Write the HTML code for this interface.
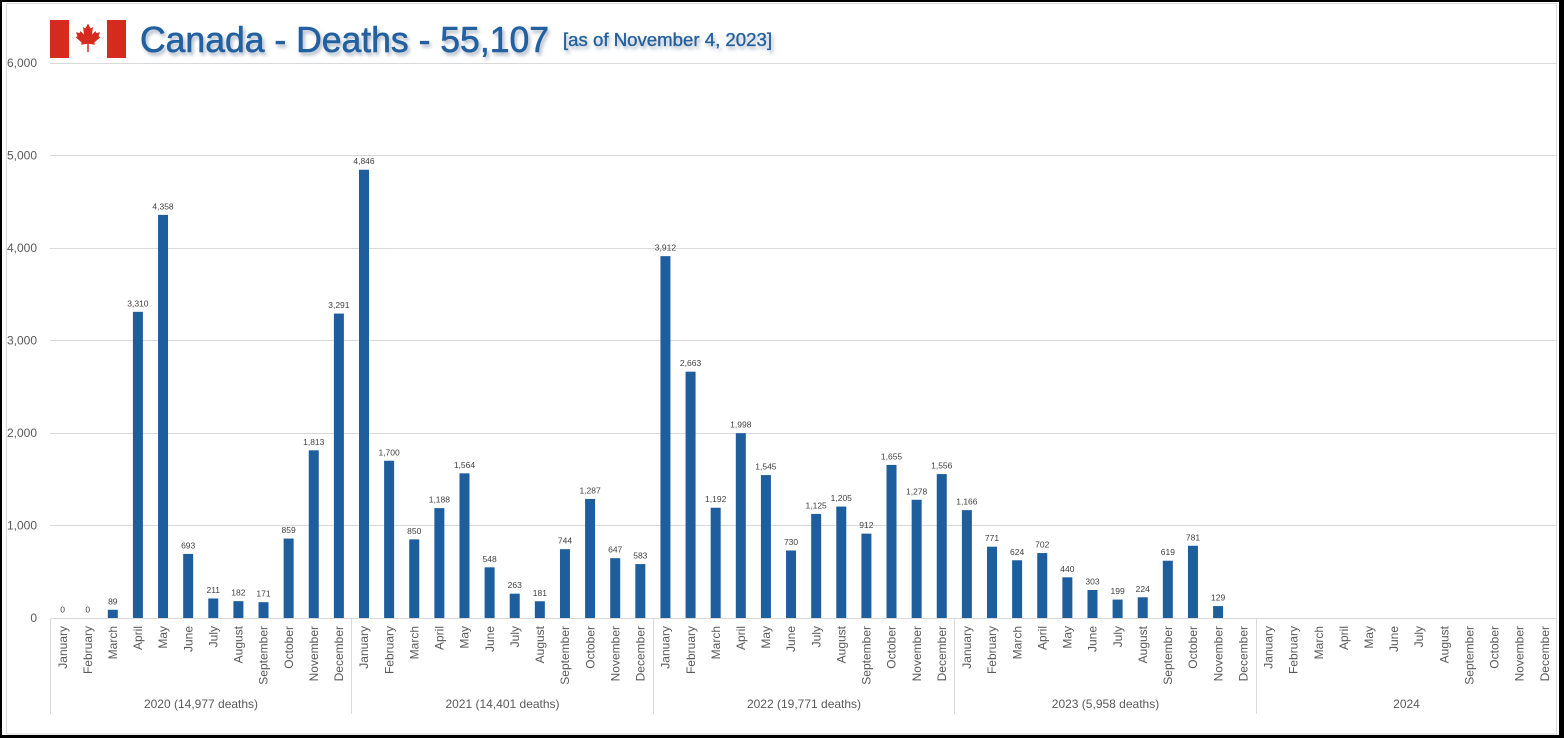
<!DOCTYPE html>
<html>
<head>
<meta charset="utf-8">
<style>
html,body{margin:0;padding:0;background:#000;}
body{width:1564px;height:738px;overflow:hidden;}
svg{display:block;}
text{font-family:"Liberation Sans",Arial,sans-serif;}
</style>
</head>
<body>
<svg width="1564" height="738" viewBox="0 0 1564 738" xmlns="http://www.w3.org/2000/svg">
<defs>
<filter id="sh" x="-10%" y="-30%" width="130%" height="180%">
<feDropShadow dx="2" dy="3" stdDeviation="1.8" flood-color="#6d7f99" flood-opacity="0.55"/>
</filter>
</defs>
<rect x="0" y="0" width="1564" height="738" fill="#000"/>
<rect x="2" y="2" width="1557" height="733" fill="#fff"/>
<rect x="6.5" y="3.5" width="1550" height="730.5" fill="none" stroke="#d9d9d9" stroke-width="1"/>

<!-- gridlines -->
<g stroke="#d9d9d9" stroke-width="1">
<line x1="50" y1="63.5" x2="1557" y2="63.5"/>
<line x1="50" y1="155.5" x2="1557" y2="155.5"/>
<line x1="50" y1="248.5" x2="1557" y2="248.5"/>
<line x1="50" y1="340.5" x2="1557" y2="340.5"/>
<line x1="50" y1="433.5" x2="1557" y2="433.5"/>
<line x1="50" y1="525.5" x2="1557" y2="525.5"/>
<line x1="50" y1="618.5" x2="1557" y2="618.5"/>
<line x1="50.5" y1="618" x2="50.5" y2="714"/>
<line x1="351.5" y1="618" x2="351.5" y2="714"/>
<line x1="653.5" y1="618" x2="653.5" y2="714"/>
<line x1="954.5" y1="618" x2="954.5" y2="714"/>
<line x1="1256.5" y1="618" x2="1256.5" y2="714"/>
</g>

<!-- y axis labels -->
<g font-size="12" fill="#595959" text-anchor="end">
<text x="37" y="67">6,000</text>
<text x="37" y="159.5">5,000</text>
<text x="37" y="252">4,000</text>
<text x="37" y="344.5">3,000</text>
<text x="37" y="437">2,000</text>
<text x="37" y="529.5">1,000</text>
<text x="37" y="622">0</text>
</g>

<!-- title -->
<g>
<rect x="50" y="20" width="19" height="38" fill="#d52b1e"/>
<rect x="69" y="20" width="38" height="38" fill="#fff"/>
<rect x="107" y="20" width="19" height="38" fill="#d52b1e"/>
<polygon fill="#d52b1e" transform="translate(88,38.5) scale(15)" points="0,-1 0.17,-0.67 0.33,-0.77 0.27,-0.27 0.5,-0.5 0.55,-0.37 0.8,-0.42 0.7,-0.15 0.83,-0.08 0.42,0.27 0.47,0.42 0.05,0.35 0.05,0.9 -0.05,0.9 -0.05,0.35 -0.47,0.42 -0.42,0.27 -0.83,-0.08 -0.7,-0.15 -0.8,-0.42 -0.55,-0.37 -0.5,-0.5 -0.27,-0.27 -0.33,-0.77 -0.17,-0.67"/>
</g>
<g filter="url(#sh)" fill="#23609f">
<text x="140" y="52" font-size="36" textLength="409" lengthAdjust="spacingAndGlyphs" stroke="#23609f" stroke-width="0.6">Canada - Deaths - 55,107</text>
<text x="563" y="46" font-size="18" textLength="209" lengthAdjust="spacingAndGlyphs" stroke="#23609f" stroke-width="0.35">[as of November 4, 2023]</text>
</g>

<!-- bars -->
<g fill="#1f5e9c">
<rect x="107.80" y="609.77" width="10" height="8.23"/>
<rect x="132.92" y="311.82" width="10" height="306.18"/>
<rect x="158.04" y="214.88" width="10" height="403.12"/>
<rect x="183.16" y="553.90" width="10" height="64.10"/>
<rect x="208.28" y="598.48" width="10" height="19.52"/>
<rect x="233.40" y="601.16" width="10" height="16.84"/>
<rect x="258.52" y="602.18" width="10" height="15.82"/>
<rect x="283.64" y="538.54" width="10" height="79.46"/>
<rect x="308.76" y="450.30" width="10" height="167.70"/>
<rect x="333.88" y="313.58" width="10" height="304.42"/>
<rect x="359.00" y="169.74" width="10" height="448.26"/>
<rect x="384.12" y="460.75" width="10" height="157.25"/>
<rect x="409.24" y="539.37" width="10" height="78.63"/>
<rect x="434.36" y="508.11" width="10" height="109.89"/>
<rect x="459.48" y="473.33" width="10" height="144.67"/>
<rect x="484.60" y="567.31" width="10" height="50.69"/>
<rect x="509.72" y="593.67" width="10" height="24.33"/>
<rect x="534.84" y="601.26" width="10" height="16.74"/>
<rect x="559.96" y="549.18" width="10" height="68.82"/>
<rect x="585.08" y="498.95" width="10" height="119.05"/>
<rect x="610.20" y="558.15" width="10" height="59.85"/>
<rect x="635.32" y="564.07" width="10" height="53.93"/>
<rect x="660.44" y="256.14" width="10" height="361.86"/>
<rect x="685.56" y="371.67" width="10" height="246.33"/>
<rect x="710.68" y="507.74" width="10" height="110.26"/>
<rect x="735.80" y="433.18" width="10" height="184.82"/>
<rect x="760.92" y="475.09" width="10" height="142.91"/>
<rect x="786.04" y="550.47" width="10" height="67.53"/>
<rect x="811.16" y="513.94" width="10" height="104.06"/>
<rect x="836.28" y="506.54" width="10" height="111.46"/>
<rect x="861.40" y="533.64" width="10" height="84.36"/>
<rect x="886.52" y="464.91" width="10" height="153.09"/>
<rect x="911.64" y="499.78" width="10" height="118.22"/>
<rect x="936.76" y="474.07" width="10" height="143.93"/>
<rect x="961.88" y="510.14" width="10" height="107.86"/>
<rect x="987.00" y="546.68" width="10" height="71.32"/>
<rect x="1012.12" y="560.28" width="10" height="57.72"/>
<rect x="1037.24" y="553.06" width="10" height="64.94"/>
<rect x="1062.36" y="577.30" width="10" height="40.70"/>
<rect x="1087.48" y="589.97" width="10" height="28.03"/>
<rect x="1112.60" y="599.59" width="10" height="18.41"/>
<rect x="1137.72" y="597.28" width="10" height="20.72"/>
<rect x="1162.84" y="560.74" width="10" height="57.26"/>
<rect x="1187.96" y="545.76" width="10" height="72.24"/>
<rect x="1213.08" y="606.07" width="10" height="11.93"/>
</g>

<!-- data labels -->
<g font-size="8.5" fill="#404040" text-anchor="middle">
<text x="62.56" y="612.5">0</text>
<text x="87.68" y="612.5">0</text>
<text x="112.80" y="604.3">89</text>
<text x="137.92" y="306.3">3,310</text>
<text x="163.04" y="209.4">4,358</text>
<text x="188.16" y="548.4">693</text>
<text x="213.28" y="593.0">211</text>
<text x="238.40" y="595.7">182</text>
<text x="263.52" y="596.7">171</text>
<text x="288.64" y="533.0">859</text>
<text x="313.76" y="444.8">1,813</text>
<text x="338.88" y="308.1">3,291</text>
<text x="364.00" y="164.2">4,846</text>
<text x="389.12" y="455.3">1,700</text>
<text x="414.24" y="533.9">850</text>
<text x="439.36" y="502.6">1,188</text>
<text x="464.48" y="467.8">1,564</text>
<text x="489.60" y="561.8">548</text>
<text x="514.72" y="588.2">263</text>
<text x="539.84" y="595.8">181</text>
<text x="564.96" y="543.7">744</text>
<text x="590.08" y="493.5">1,287</text>
<text x="615.20" y="552.7">647</text>
<text x="640.32" y="558.6">583</text>
<text x="665.44" y="250.6">3,912</text>
<text x="690.56" y="366.2">2,663</text>
<text x="715.68" y="502.2">1,192</text>
<text x="740.80" y="427.7">1,998</text>
<text x="765.92" y="469.6">1,545</text>
<text x="791.04" y="545.0">730</text>
<text x="816.16" y="508.4">1,125</text>
<text x="841.28" y="501.0">1,205</text>
<text x="866.40" y="528.1">912</text>
<text x="891.52" y="459.4">1,655</text>
<text x="916.64" y="494.3">1,278</text>
<text x="941.76" y="468.6">1,556</text>
<text x="966.88" y="504.6">1,166</text>
<text x="992.00" y="541.2">771</text>
<text x="1017.12" y="554.8">624</text>
<text x="1042.24" y="547.6">702</text>
<text x="1067.36" y="571.8">440</text>
<text x="1092.48" y="584.5">303</text>
<text x="1117.60" y="594.1">199</text>
<text x="1142.72" y="591.8">224</text>
<text x="1167.84" y="555.2">619</text>
<text x="1192.96" y="540.3">781</text>
<text x="1218.08" y="600.6">129</text>
</g>

<!-- month labels -->
<g font-size="12" fill="#595959" text-anchor="end">
<text transform="translate(62.56,626) rotate(-90)" dy="0.35em">January</text>
<text transform="translate(87.68,626) rotate(-90)" dy="0.35em">February</text>
<text transform="translate(112.80,626) rotate(-90)" dy="0.35em">March</text>
<text transform="translate(137.92,626) rotate(-90)" dy="0.35em">April</text>
<text transform="translate(163.04,626) rotate(-90)" dy="0.35em">May</text>
<text transform="translate(188.16,626) rotate(-90)" dy="0.35em">June</text>
<text transform="translate(213.28,626) rotate(-90)" dy="0.35em">July</text>
<text transform="translate(238.40,626) rotate(-90)" dy="0.35em">August</text>
<text transform="translate(263.52,626) rotate(-90)" dy="0.35em">September</text>
<text transform="translate(288.64,626) rotate(-90)" dy="0.35em">October</text>
<text transform="translate(313.76,626) rotate(-90)" dy="0.35em">November</text>
<text transform="translate(338.88,626) rotate(-90)" dy="0.35em">December</text>
<text transform="translate(364.00,626) rotate(-90)" dy="0.35em">January</text>
<text transform="translate(389.12,626) rotate(-90)" dy="0.35em">February</text>
<text transform="translate(414.24,626) rotate(-90)" dy="0.35em">March</text>
<text transform="translate(439.36,626) rotate(-90)" dy="0.35em">April</text>
<text transform="translate(464.48,626) rotate(-90)" dy="0.35em">May</text>
<text transform="translate(489.60,626) rotate(-90)" dy="0.35em">June</text>
<text transform="translate(514.72,626) rotate(-90)" dy="0.35em">July</text>
<text transform="translate(539.84,626) rotate(-90)" dy="0.35em">August</text>
<text transform="translate(564.96,626) rotate(-90)" dy="0.35em">September</text>
<text transform="translate(590.08,626) rotate(-90)" dy="0.35em">October</text>
<text transform="translate(615.20,626) rotate(-90)" dy="0.35em">November</text>
<text transform="translate(640.32,626) rotate(-90)" dy="0.35em">December</text>
<text transform="translate(665.44,626) rotate(-90)" dy="0.35em">January</text>
<text transform="translate(690.56,626) rotate(-90)" dy="0.35em">February</text>
<text transform="translate(715.68,626) rotate(-90)" dy="0.35em">March</text>
<text transform="translate(740.80,626) rotate(-90)" dy="0.35em">April</text>
<text transform="translate(765.92,626) rotate(-90)" dy="0.35em">May</text>
<text transform="translate(791.04,626) rotate(-90)" dy="0.35em">June</text>
<text transform="translate(816.16,626) rotate(-90)" dy="0.35em">July</text>
<text transform="translate(841.28,626) rotate(-90)" dy="0.35em">August</text>
<text transform="translate(866.40,626) rotate(-90)" dy="0.35em">September</text>
<text transform="translate(891.52,626) rotate(-90)" dy="0.35em">October</text>
<text transform="translate(916.64,626) rotate(-90)" dy="0.35em">November</text>
<text transform="translate(941.76,626) rotate(-90)" dy="0.35em">December</text>
<text transform="translate(966.88,626) rotate(-90)" dy="0.35em">January</text>
<text transform="translate(992.00,626) rotate(-90)" dy="0.35em">February</text>
<text transform="translate(1017.12,626) rotate(-90)" dy="0.35em">March</text>
<text transform="translate(1042.24,626) rotate(-90)" dy="0.35em">April</text>
<text transform="translate(1067.36,626) rotate(-90)" dy="0.35em">May</text>
<text transform="translate(1092.48,626) rotate(-90)" dy="0.35em">June</text>
<text transform="translate(1117.60,626) rotate(-90)" dy="0.35em">July</text>
<text transform="translate(1142.72,626) rotate(-90)" dy="0.35em">August</text>
<text transform="translate(1167.84,626) rotate(-90)" dy="0.35em">September</text>
<text transform="translate(1192.96,626) rotate(-90)" dy="0.35em">October</text>
<text transform="translate(1218.08,626) rotate(-90)" dy="0.35em">November</text>
<text transform="translate(1243.20,626) rotate(-90)" dy="0.35em">December</text>
<text transform="translate(1268.32,626) rotate(-90)" dy="0.35em">January</text>
<text transform="translate(1293.44,626) rotate(-90)" dy="0.35em">February</text>
<text transform="translate(1318.56,626) rotate(-90)" dy="0.35em">March</text>
<text transform="translate(1343.68,626) rotate(-90)" dy="0.35em">April</text>
<text transform="translate(1368.80,626) rotate(-90)" dy="0.35em">May</text>
<text transform="translate(1393.92,626) rotate(-90)" dy="0.35em">June</text>
<text transform="translate(1419.04,626) rotate(-90)" dy="0.35em">July</text>
<text transform="translate(1444.16,626) rotate(-90)" dy="0.35em">August</text>
<text transform="translate(1469.28,626) rotate(-90)" dy="0.35em">September</text>
<text transform="translate(1494.40,626) rotate(-90)" dy="0.35em">October</text>
<text transform="translate(1519.52,626) rotate(-90)" dy="0.35em">November</text>
<text transform="translate(1544.64,626) rotate(-90)" dy="0.35em">December</text>
</g>

<!-- year labels -->
<g font-size="12" fill="#595959" text-anchor="middle">
<text x="201" y="708">2020 (14,977 deaths)</text>
<text x="502.5" y="708">2021 (14,401 deaths)</text>
<text x="804" y="708">2022 (19,771 deaths)</text>
<text x="1105.5" y="708">2023 (5,958 deaths)</text>
<text x="1406.5" y="708">2024</text>
</g>
</svg>
</body>
</html>
